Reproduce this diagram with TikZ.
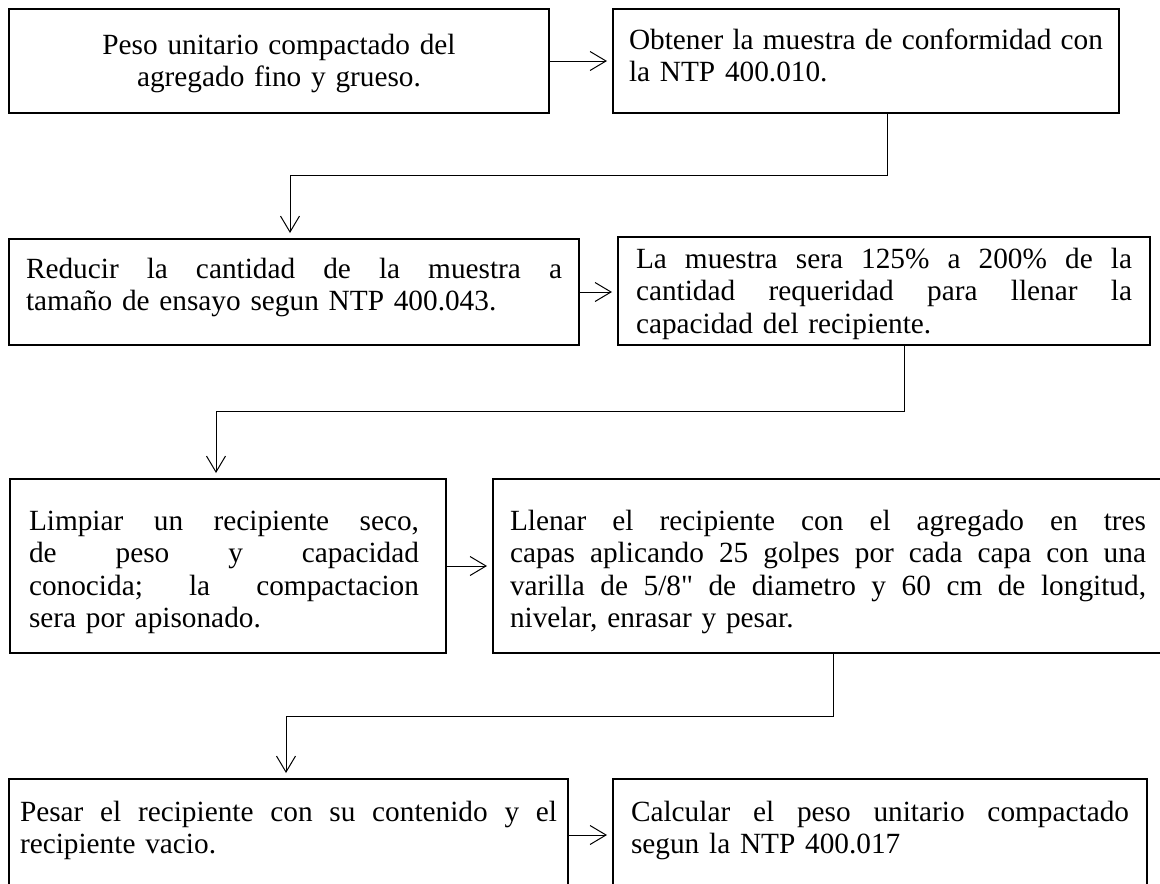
\documentclass[tikz,border=0pt]{standalone}
\usepackage{fontspec}
\setmainfont{Liberation Serif}[Ligatures=TeXOff]
\usetikzlibrary{arrows.meta}
\newcommand{\jline}[2][\hsize]{{\frenchspacing\spaceskip=0.25em plus 1fil\xspaceskip=0.25em plus 1fil\makebox[#1][s]{#2}}}
\begin{document}
\begin{tikzpicture}[x=1pt,y=-1pt,
  box/.style={draw, line width=2pt, anchor=north west, inner ysep=0pt, align=left,
    font=\fontsize{29.3}{32.5}\selectfont},
  arr/.style={line width=1pt, shorten >=5pt, -{Straight Barb[length=16pt,width=19pt]}}]
\useasboundingbox (0,0) rectangle (1160,884);

\node[box, align=center, inner xsep=16pt, text width=508pt, text height=45pt, text depth=59pt] (b1) at (8,8)
  {Peso unitario compactado del\\agregado fino y grueso.};
\node[box, inner xsep=16pt, text width=474pt, text height=40pt, text depth=64pt] (b2) at (612,8)
  {\jline{Obtener la muestra de conformidad con}\\la NTP 400.010.};
\node[box, inner xsep=17pt, text width=536pt, text height=39pt, text depth=67pt] (b3) at (8,238)
  {\jline{Reducir la cantidad de la muestra a}\\tamaño de ensayo segun NTP 400.043.};
\node[box, inner xsep=18pt, text width=496pt, text height=31pt, text depth=77pt] (b4) at (617,236)
  {\jline{La muestra sera 125\% a 200\% de la}\\\jline{cantidad requeridad para llenar la}\\capacidad del recipiente.};
\node[box, inner xsep=19pt, text width=398pt, text height=51pt, text depth=123pt] (b5) at (9,478)
  {\jline[390pt]{Limpiar un recipiente seco,}\\\jline[390pt]{de peso y capacidad}\\\jline[390pt]{conocida; la compactacion}\\sera por apisonado.};
\node[box, inner xsep=17pt, text width=636pt, text height=51pt, text depth=123pt] (b6) at (492,478)
  {\jline{Llenar el recipiente con el agregado en tres}\\\jline{capas aplicando 25 golpes por cada capa con una}\\\jline{varilla de 5/8" de diametro y 60 cm de longitud,}\\nivelar, enrasar y pesar.};
\node[box, inner xsep=11pt, text width=537pt, text height=42pt, text depth=70pt] (b7) at (8,778)
  {\jline{Pesar el recipiente con su contenido y el}\\recipiente vacio.};
\node[box, inner xsep=18pt, text width=498pt, text height=42pt, text depth=70pt] (b8) at (612,778)
  {\jline{Calcular el peso unitario compactado}\\segun la NTP 400.017};

\draw[arr] (b1.east) -- (b1.east -| b2.west);
\draw[arr] (b3.east) -- (b3.east -| b4.west);
\draw[arr] (b5.east) -- (b5.east -| b6.west);
\draw[arr] (b7.east) -- (b7.east -| b8.west);

\coordinate (c1a) at (887,175); \coordinate (c1b) at (290,175);
\draw[arr] (c1a |- b2.south) -- (c1a) -- (c1b) -- (c1b |- b3.north);
\coordinate (c2a) at (904,411); \coordinate (c2b) at (216,411);
\draw[arr] (c2a |- b4.south) -- (c2a) -- (c2b) -- (c2b |- b5.north);
\coordinate (c3a) at (833,716); \coordinate (c3b) at (286,716);
\draw[arr] (c3a |- b6.south) -- (c3a) -- (c3b) -- (c3b |- b7.north);
\end{tikzpicture}
\end{document}
